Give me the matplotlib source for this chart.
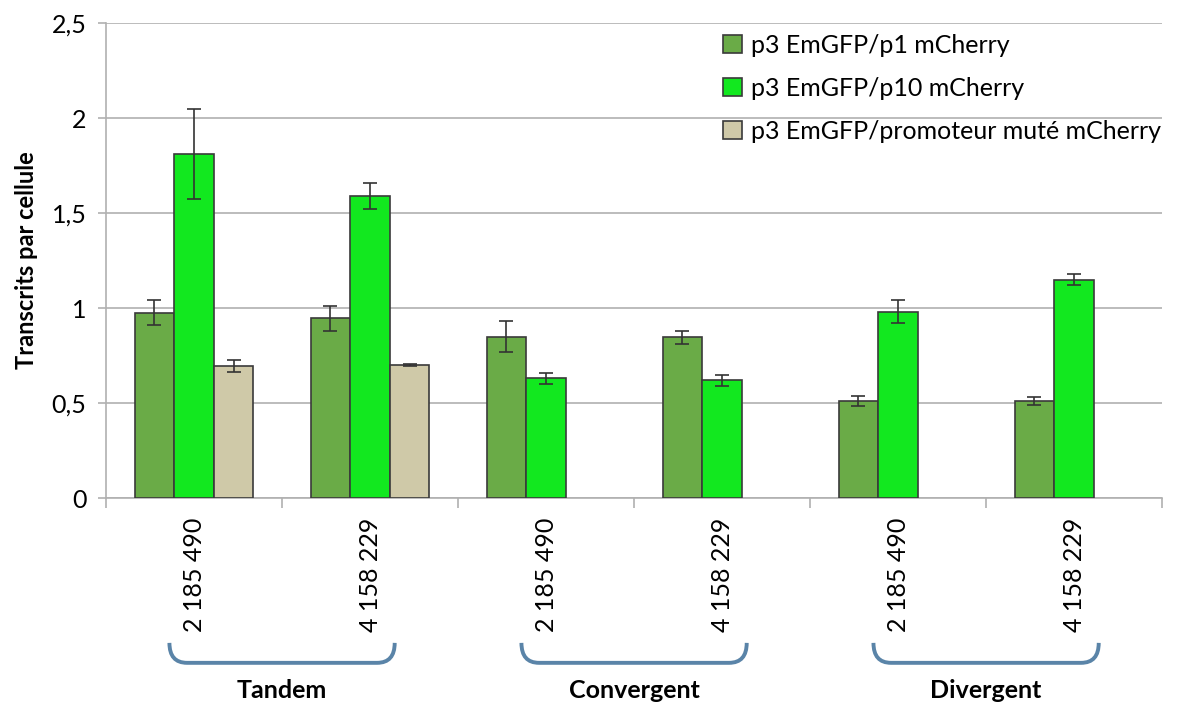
import matplotlib.pyplot as plt
import numpy as np
from matplotlib.path import Path
from matplotlib.patches import PathPatch
import matplotlib.transforms as mtransforms
from matplotlib.ticker import FixedLocator

plt.rcParams['font.family'] = ['Lato', 'DejaVu Sans']

# Data
categories = ['2 185 490', '4 158 229', '2 185 490', '4 158 229', '2 185 490', '4 158 229']
groups = ['Tandem', 'Convergent', 'Divergent']
series = ['p3 EmGFP/p1 mCherry', 'p3 EmGFP/p10 mCherry', 'p3 EmGFP/promoteur muté mCherry']
p1 = [0.975, 0.945, 0.85, 0.845, 0.51, 0.51]
p1_err = [0.065, 0.065, 0.08, 0.035, 0.025, 0.02]
p10 = [1.81, 1.59, 0.63, 0.62, 0.98, 1.15]
p10_err = [0.235, 0.07, 0.03, 0.03, 0.06, 0.03]
mut = [0.695, 0.70, np.nan, np.nan, np.nan, np.nan]
mut_err = [0.03, 0.005, np.nan, np.nan, np.nan, np.nan]

colors = ['#6aab47', '#12e81f', '#cfc9a8']

fig = plt.figure(figsize=(11.81, 7.06), dpi=100)
ax = fig.add_axes([0.0898, 0.2946, 0.8942, 0.6728])

x = np.arange(len(categories))
w = 0.225
for i, (vals, errs) in enumerate([(p1, p1_err), (p10, p10_err), (mut, mut_err)]):
    ax.bar(x + (i - 1) * w, vals, w, color=colors[i], edgecolor='#3a3a3a', linewidth=1.2,
           yerr=errs, error_kw=dict(ecolor='#333333', elinewidth=1.2, capsize=5, capthick=1.2),
           label=series[i], zorder=3)

ax.set_xlim(-0.5, len(categories) - 0.5)
ax.set_ylim(0, 2.5)
ax.set_yticks([0, 0.5, 1, 1.5, 2, 2.5])
ax.set_yticklabels(['0', '0,5', '1', '1,5', '2', '2,5'], fontsize=18)
ax.yaxis.grid(True, color='#b0b0b0', linewidth=1.2, zorder=0)
ax.set_axisbelow(True)

ax.set_xticks(x)
ax.set_xticklabels(categories, rotation=90, fontsize=18)
ax.tick_params(axis='x', length=0, pad=14)
ax.xaxis.set_minor_locator(FixedLocator(np.arange(-0.5, len(categories), 1)))
ax.tick_params(axis='x', which='minor', length=7, color='#b0b0b0', width=1.2)
ax.tick_params(axis='y', length=6, color='#b0b0b0', width=1.2, pad=8)

for s in ['top', 'right']:
    ax.spines[s].set_visible(False)
for s in ['left', 'bottom']:
    ax.spines[s].set_color('#b0b0b0')
    ax.spines[s].set_linewidth(1.2)

ax.set_ylabel('Transcrits par cellule', fontsize=17, fontweight='bold', labelpad=10)

leg = ax.legend(loc='upper left', bbox_to_anchor=(0.563, 1.025), frameon=False, fontsize=18,
                handlelength=0.75, handleheight=0.75, handletextpad=0.35, labelspacing=0.8)

# group braces and labels
trans = mtransforms.blended_transform_factory(ax.transData, ax.transAxes)
for g, name in enumerate(groups):
    x0 = 2 * g - 0.14
    x1 = 2 * g + 1 + 0.14
    ytop, ybot = -0.305, -0.347
    r = 0.1
    verts = [(x0, ytop), (x0, ybot), (x0 + r, ybot),
             (x1 - r, ybot), (x1, ybot), (x1, ytop)]
    codes = [Path.MOVETO, Path.CURVE3, Path.CURVE3,
             Path.LINETO, Path.CURVE3, Path.CURVE3]
    ax.add_patch(PathPatch(Path(verts, codes), transform=trans, fill=False,
                           edgecolor='#5a84a8', linewidth=2.8, clip_on=False))
    ax.text(2 * g + 0.5, -0.405, name, transform=trans, ha='center', va='center',
            fontsize=18, fontweight='bold')

fig.savefig('out.png', dpi=100)
